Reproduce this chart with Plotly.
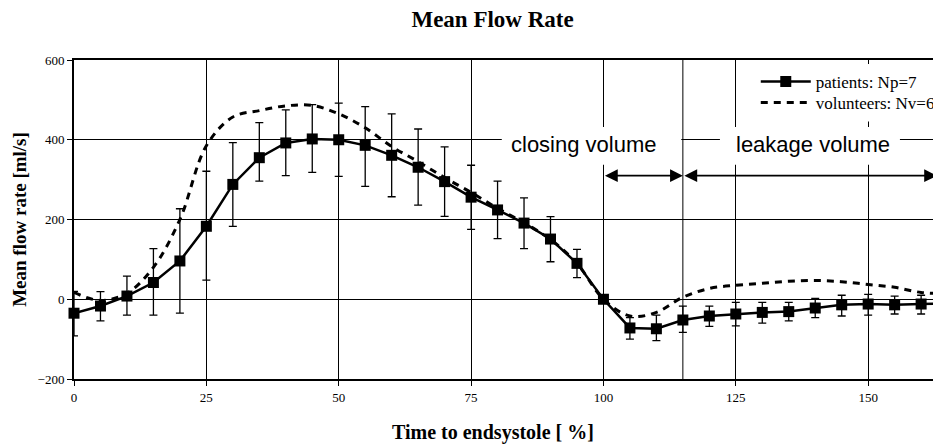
import plotly.graph_objects as go

time_pct = [0, 5, 10, 15, 20, 25, 30, 35, 40, 45, 50, 55, 60, 65, 70, 75, 80, 85, 90, 95,
            100, 105, 110, 115, 120, 125, 130, 135, 140, 145, 150, 155, 160, 165]
patients = [-35, -17, 8, 42, 96, 183, 288, 355, 392, 402, 400, 386, 361, 331, 295, 256, 224, 191, 151, 90,
            0, -72, -74, -52, -42, -37, -33, -31, -22, -14, -12, -14, -12, -10]
patients_err_plus = [55, 36, 50, 85, 131, 138, 105, 88, 83, 86, 92, 97, 104, 96, 87, 80, 72, 63, 56, 35,
                     0, 26, 34, 35, 25, 29, 25, 23, 24, 24, 24, 22, 22, 22]
patients_err_minus = [57, 37, 48, 82, 131, 135, 105, 59, 82, 84, 92, 103, 104, 95, 87, 81, 72, 64, 57, 36,
                      0, 28, 30, 31, 26, 30, 27, 23, 24, 28, 28, 23, 25, 25]
volunteers = [17, -3, 15, 80, 200, 385, 457, 473, 485, 486, 465, 430, 383, 345, 305, 268, 228, 192, 150, 90,
              0, -42, -33, 5, 27, 35, 40, 45, 47, 44, 37, 30, 17, 14]

x_ticks = [0, 25, 50, 75, 100, 125, 150]
y_ticks = [-200, 0, 200, 400, 600]
phase_bounds = [100, 115, 163]
arrow_level = 310

SERIF = "Liberation Serif, Times New Roman, serif"
SANS = "Liberation Sans, Arial, sans-serif"

fig = go.Figure()

fig.add_trace(go.Scatter(
    x=time_pct, y=patients, mode="lines+markers", name="patients: Np=7",
    line=dict(color="black", width=2.5),
    marker=dict(symbol="square", size=11, color="black"),
    error_y=dict(type="data", symmetric=False, array=patients_err_plus,
                 arrayminus=patients_err_minus, color="black", thickness=1.3, width=4),
    cliponaxis=False, legend="legend",
))
fig.add_trace(go.Scatter(
    x=time_pct, y=volunteers, mode="lines", name="volunteers: Nv=6",
    line=dict(color="black", width=3, dash="7px,6px", shape="spline", smoothing=1.0),
    legend="legend2",
))

# boundary between closing and leakage phase
fig.add_shape(type="line", x0=phase_bounds[1], x1=phase_bounds[1], y0=-200, y1=600,
              line=dict(color="black", width=1), layer="between")

# white boxes behind phase labels and legend
fig.add_shape(type="rect", x0=80.8, x1=114.7, y0=337, y1=432,
              fillcolor="white", line=dict(width=0), layer="above")
fig.add_shape(type="rect", x0=122.0, x1=156.0, y0=337, y1=432,
              fillcolor="white", line=dict(width=0), layer="above")
fig.add_shape(type="rect", x0=128.5, x1=163, y0=446, y1=590,
              fillcolor="white", line=dict(width=0), layer="above")

fig.add_annotation(x=96.4, y=387, xref="x", yref="y", text="closing volume", showarrow=False,
                   font=dict(family=SANS, size=22, color="black"))
fig.add_annotation(x=139.5, y=387, xref="x", yref="y", text="leakage volume", showarrow=False,
                   font=dict(family=SANS, size=22, color="black"))

for a, b in [(phase_bounds[0], phase_bounds[1]), (phase_bounds[1], phase_bounds[2])]:
    fig.add_annotation(x=b, y=arrow_level, ax=a, ay=arrow_level, xref="x", yref="y",
                       axref="x", ayref="y", text="", showarrow=True,
                       arrowhead=2, arrowside="end+start", arrowsize=1.6, arrowwidth=1.6,
                       arrowcolor="black", standoff=0, startstandoff=0)

# x-axis title (slightly left of the plot centre, as in the original)
fig.add_annotation(x=0.485, y=-53 / 319, xref="paper", yref="paper", showarrow=False,
                   text="<b>Time to endsystole [ %]</b>", xanchor="center", yanchor="middle",
                   font=dict(family=SERIF, size=20, color="black"))

legend_common = dict(xanchor="left", yanchor="middle", bgcolor="rgba(0,0,0,0)",
                     font=dict(family=SERIF, size=17, color="black"), itemwidth=50,
                     borderwidth=0)

fig.update_layout(
    width=933, height=437,
    margin=dict(l=66, r=1, t=52, b=66),
    paper_bgcolor="white", plot_bgcolor="white",
    title=dict(text="<b>Mean Flow Rate</b>", x=0.485, xref="paper", y=1 - 11 / 437,
               yref="container", xanchor="center", yanchor="middle",
               font=dict(family=SERIF, size=23, color="black")),
    font=dict(family=SERIF, color="black"),
    showlegend=True,
    legend=dict(x=0.79, y=(379 - 82) / 319, **legend_common),
    legend2=dict(x=0.79, y=(379 - 103) / 319, **legend_common),
    xaxis=dict(range=[0, 163], tickvals=x_ticks, showgrid=True, gridcolor="black", gridwidth=1,
               showline=True, linecolor="black", linewidth=2, mirror=True,
               ticks="outside", ticklen=5, tickcolor="black", automargin=False,
               tickfont=dict(family=SERIF, size=13, color="black"), zeroline=False),
    yaxis=dict(range=[-200, 600], tickvals=y_ticks, showgrid=True, gridcolor="black", gridwidth=1,
               showline=True, linecolor="black", linewidth=2, automargin=False,
               ticks="outside", ticklen=5, tickcolor="black",
               tickfont=dict(family=SERIF, size=13, color="black"), zeroline=False,
               title=dict(text="<b>Mean flow rate [ml/s]</b>", standoff=6,
                          font=dict(family=SERIF, size=19, color="black"))),
)

fig.write_html("out.html")
